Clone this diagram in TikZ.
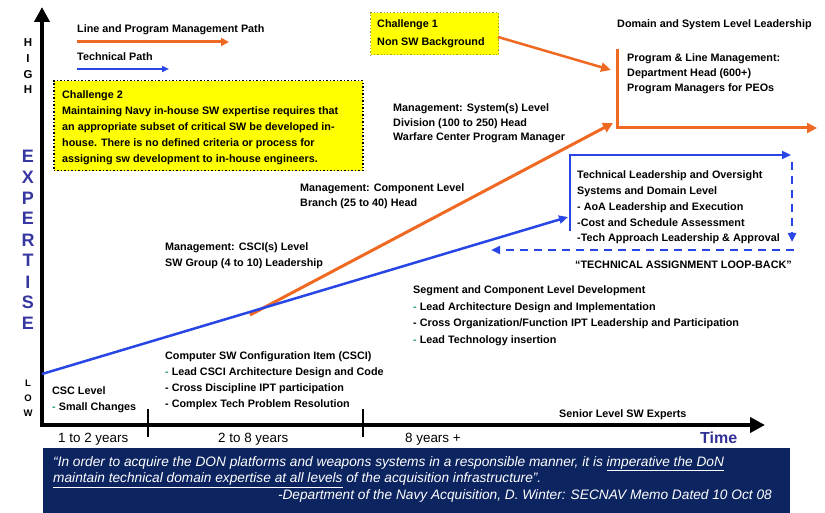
\documentclass[tikz,border=0pt]{standalone}
\usepackage{fontspec}
\setmainfont{Liberation Sans}
\usetikzlibrary{arrows.meta}
\definecolor{orng}{RGB}{240,105,35}
\definecolor{blu}{RGB}{40,70,230}
\definecolor{navybg}{RGB}{12,36,96}
\definecolor{expblue}{RGB}{55,55,160}
\definecolor{timeblue}{RGB}{50,50,150}
\definecolor{tealdash}{RGB}{40,150,130}
\definecolor{yel}{RGB}{255,255,0}
\begin{document}
\begin{tikzpicture}[x=1pt,y=-1pt,
  txt/.style={font=\bfseries\fontsize{10.8}{15}\selectfont, inner sep=0, anchor=base west, align=left},
  txtsp/.style={font=\bfseries\fontsize{10.8}{16}\selectfont, inner sep=0, anchor=base west, align=left},
  yrs/.style={font=\fontsize{13.4}{16}\selectfont, inner sep=0, anchor=base west},
  vert/.style={font=\bfseries\fontsize{11.5}{15.7}\selectfont, inner sep=0, anchor=base, align=center},
  axis/.style={line width=4pt, -{Triangle[length=15pt,width=15pt]}},
  tick/.style={line width=2.5pt},
  orpath/.style={orng, line width=3pt, -{Triangle[length=10pt,width=10pt]}},
  blpath/.style={blu, line width=2.5pt, -{Triangle[length=9pt,width=8pt]}},
  bldash/.style={blu, line width=2.5pt, dash pattern=on 8pt off 6pt, -{Triangle[length=9pt,width=8pt]}},
  quotetxt/.style={inner sep=0, text=white, font=\itshape\fontsize{13.7}{16.5}\selectfont}
]
\useasboundingbox (0,0) rectangle (825,513);
\fill[white] (0,0) rectangle (825,513);

% axes
\coordinate (origin) at (40,425);
\coordinate (ytop) at (42,7);
\coordinate (xend) at (765,425);
\draw[axis] (42,427) -- (ytop);
\draw[axis] (origin) -- (xend);
\coordinate (t1a) at (148,409); \coordinate (t1b) at (148,437);
\coordinate (t2a) at (363,409); \coordinate (t2b) at (363,437);
\draw[tick] (t1a) -- (t1b);
\draw[tick] (t2a) -- (t2b);

% vertical labels (base = last line)
\node[vert] (high) at (28,94) {H\\I\\G\\H};
\node[vert, text=expblue, font=\bfseries\fontsize{18}{21}\selectfont] (expertise) at (28,330) {E\\X\\P\\E\\R\\T\\I\\S\\E};
\node[vert, font=\bfseries\fontsize{9.5}{15}\selectfont] (low) at (28,416) {L\\O\\W};

% legend
\node[txt] (lpm) at (77,33) {Line and Program Management Path};
\coordinate (lo0) at (77,42); \coordinate (lo1) at (229,42);
\draw[orng, line width=3pt, -{Triangle[length=8pt,width=8pt]}] (lo0) -- (lo1);
\node[txt] (tpath) at (77,61) {Technical Path};
\coordinate (lb0) at (77,69); \coordinate (lb1) at (169,69);
\draw[blu, line width=2pt, -{Triangle[length=7pt,width=6pt]}] (lb0) -- (lb1);

% challenge 2
\node[draw=black, dotted, line width=1.5pt, fill=yel, minimum width=309pt, minimum height=90pt, anchor=north west, inner sep=0] (c2box) at (53,80) {};
\node[txtsp] (c2) at (62,163) {Challenge 2\\Maintaining Navy in-house SW expertise requires that\\an appropriate subset of critical SW be developed in-\\house. There is no defined criteria or process for\\assigning sw development to in-house engineers.};

% challenge 1
\node[draw=olive!80, dotted, line width=1.3pt, fill=yel, minimum width=128pt, minimum height=42pt, anchor=north west, inner sep=0] (c1box) at (370,12) {};
\node[txt, font=\bfseries\fontsize{10.8}{18}\selectfont] (c1) at (377,46) {Challenge 1\\Non SW Background};
\coordinate (c1a) at (498,37); \coordinate (c1b) at (611,70);
\draw[orng, line width=2.5pt, -{Triangle[length=10pt,width=9pt]}] (c1a) -- (c1b);

% domain leadership
\node[txt] (domain) at (617,28) {Domain and System Level Leadership};
\node[txt] (plm) at (627,92) {Program \& Line Management:\\Department Head (600+)\\Program Managers for PEOs};
\coordinate (ov0) at (617,49); \coordinate (ov1) at (617,128); \coordinate (ov2) at (817,128);
\draw[orpath] (ov0) -- (ov1) -- (ov2);

% orange management line
\coordinate (om0) at (250,315); \coordinate (om1) at (613,123);
\draw[orpath] (om0) -- (om1);

% management labels
\node[txt, font=\bfseries\fontsize{10.8}{14.5}\selectfont] (sys) at (393,141) {Management: System(s) Level\\Division (100 to 250) Head\\Warfare Center Program Manager};
\node[txt] (comp) at (300,207) {Management: Component Level\\Branch (25 to 40) Head};
\node[txt, font=\bfseries\fontsize{10.8}{16}\selectfont] (csciL) at (165,266) {Management: CSCI(s) Level\\SW Group (4 to 10) Leadership};

% blue technical path
\coordinate (tb0) at (42,374); \coordinate (tb1) at (568,217);
\draw[blpath] (tb0) -- (tb1);
\coordinate (tr0) at (570,231); \coordinate (tr1) at (570,155); \coordinate (tr2) at (791,155);
\draw[blpath] (tr0) -- (tr1) -- (tr2);
\coordinate (td0) at (792,162); \coordinate (td1) at (792,242);
\draw[bldash] (td0) -- (td1);
\coordinate (td2) at (794,250); \coordinate (td3) at (491,250);
\draw[bldash] (td2) -- (td3);

\node[txt, font=\bfseries\fontsize{10.8}{15.8}\selectfont] (tech) at (577,242) {Technical Leadership and Oversight\\Systems and Domain Level\\- AoA Leadership and Execution\\-Cost and Schedule Assessment\\-Tech Approach Leadership \& Approval};
\node[txt] (loop) at (575,269) {“TECHNICAL ASSIGNMENT LOOP-BACK”};

\node[txt, font=\bfseries\fontsize{10.8}{16.4}\selectfont] (seg) at (413,343) {Segment and Component Level Development\\{\color{tealdash}-} Lead Architecture Design and Implementation\\- Cross Organization/Function IPT Leadership and Participation\\{\color{tealdash}-} Lead Technology insertion};

\node[txt, font=\bfseries\fontsize{10.8}{16}\selectfont] (csci) at (165,407) {Computer SW Configuration Item (CSCI)\\{\color{tealdash}-} Lead CSCI Architecture Design and Code\\- Cross Discipline IPT participation\\- Complex Tech Problem Resolution};

\node[txt, font=\bfseries\fontsize{10.8}{16}\selectfont] (csc) at (52,410) {CSC Level\\{\color{tealdash}-} Small Changes};

\node[txt] (senior) at (559,417) {Senior Level SW Experts};

% time axis labels
\node[yrs] (y1) at (58,442) {1 to 2 years};
\node[yrs] (y2) at (218,442) {2 to 8 years};
\node[yrs] (y3) at (405,442) {8 years +};
\node[yrs, font=\bfseries\fontsize{16}{18}\selectfont, text=timeblue] (time) at (700,443) {Time};

% quote box
\node[fill=navybg, minimum width=747pt, minimum height=66pt, anchor=north west, inner sep=0] (qbox) at (43,448) {};
\node[quotetxt, anchor=base west, align=left] (quote) at (53,482.5) {“In order to acquire the DON platforms and weapons systems in a responsible manner, it is \underline{imperative the DoN}\\\underline{maintain technical domain expertise at all levels} of the acquisition infrastructure”.};
\node[quotetxt, anchor=base east] (src) at (772,499) {-Department of the Navy Acquisition, D. Winter: SECNAV Memo Dated 10 Oct 08};
\end{tikzpicture}
\end{document}
